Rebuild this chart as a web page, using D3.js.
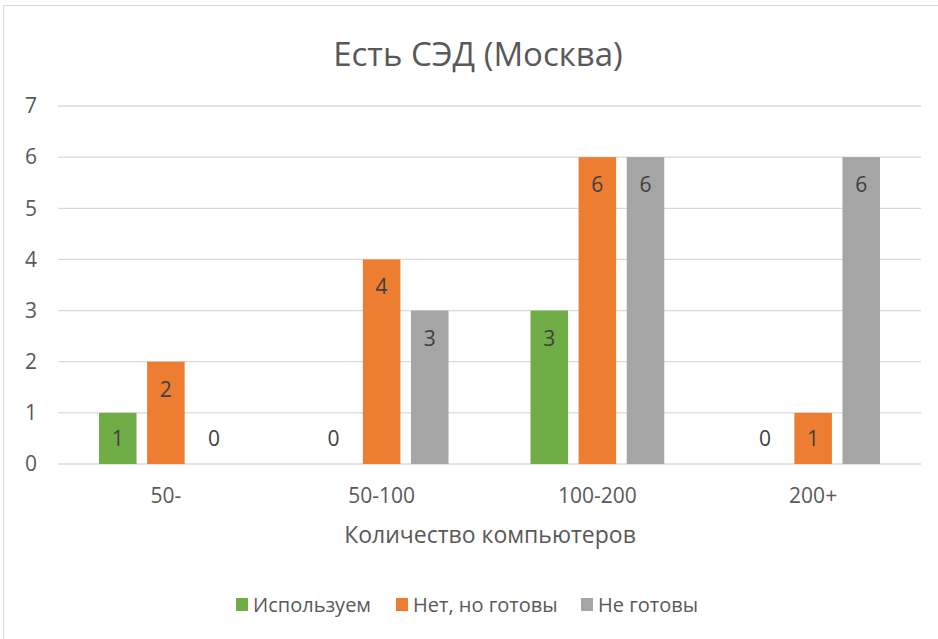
<!DOCTYPE html>
<html>
<head>
<meta charset="utf-8">
<script src="https://cdn.jsdelivr.net/npm/d3@7"></script>
<style>
  body { margin: 0; background: #fff; }
  text { font-family: "Open Sans", "Noto Sans", sans-serif; }
</style>
</head>
<body>
<svg id="chart" width="938" height="639"></svg>
<script>
// Chart data
const categories = ['50-', '50-100', '100-200', '200+'];
const seriesNames = ['Используем', 'Нет, но готовы', 'Не готовы'];
const usingValues = [1, 0, 3, 0];
const readyValues = [2, 4, 6, 1];
const notReadyValues = [0, 3, 6, 6];
const yTicks = [0, 1, 2, 3, 4, 5, 6, 7];

const colors = ['#70ad47', '#ed7d31', '#a5a5a5'];
const series = [usingValues, readyValues, notReadyValues];

const svg = d3.select('#chart');

// chart frame (cut off on the right and bottom like the original)
svg.append('rect')
    .attr('x', 3.5).attr('y', 5.5)
    .attr('width', 960).attr('height', 660)
    .attr('fill', 'none').attr('stroke', '#d9d9d9');

const plot = { left: 58, right: 921, top: 106, bottom: 464 };

const x = d3.scaleBand()
    .domain(categories)
    .range([plot.left, plot.right]);

const y = d3.scaleLinear()
    .domain([0, 7])
    .range([plot.bottom, plot.top]);

// Title
svg.append('text')
    .attr('x', 478).attr('y', 66)
    .attr('text-anchor', 'middle')
    .attr('font-size', 33)
    .attr('fill', '#595959')
    .text('Есть СЭД (Москва)');

// Gridlines
svg.append('g')
    .selectAll('line')
    .data(yTicks)
    .enter().append('line')
    .attr('x1', plot.left).attr('x2', plot.right)
    .attr('y1', (d) => y(d)).attr('y2', (d) => y(d))
    .attr('stroke', '#d9d9d9')
    .attr('stroke-width', 1.3);

// Y axis labels
const yAxis = d3.axisLeft(y).tickValues(yTicks).tickFormat(d3.format('d')).tickSize(0).tickPadding(0);
const yg = svg.append('g')
    .attr('transform', `translate(${37},0)`)
    .call(yAxis);
yg.select('.domain').remove();
yg.selectAll('text')
    .attr('font-size', 21)
    .attr('fill', '#595959')
    .attr('font-family', '"Open Sans", sans-serif');

// X axis labels
const xAxis = d3.axisBottom(x).tickSize(0).tickPadding(0);
const xg = svg.append('g')
    .attr('transform', `translate(0,${488})`)
    .call(xAxis);
xg.select('.domain').remove();
xg.selectAll('text')
    .attr('font-size', 21)
    .attr('fill', '#595959')
    .attr('font-family', '"Open Sans", sans-serif');

// Axis title
svg.append('text')
    .attr('x', 490).attr('y', 543)
    .attr('text-anchor', 'middle')
    .attr('font-size', 23)
    .attr('fill', '#595959')
    .text('Количество компьютеров');

// Bars
const barWidth = x.bandwidth() * 0.174;
const barStep = x.bandwidth() * 0.223;

series.forEach((values, si) => {
    const g = svg.append('g');
    const offset = (si - 1) * barStep - barWidth / 2;

    g.selectAll('rect')
        .data(values)
        .enter().append('rect')
        .attr('x', (d, i) => x(categories[i]) + x.bandwidth() / 2 + offset)
        .attr('y', (d) => y(d))
        .attr('width', barWidth)
        .attr('height', (d) => y(0) - y(d))
        .attr('fill', colors[si]);

    g.selectAll('text')
        .data(values)
        .enter().append('text')
        .attr('x', (d, i) => x(categories[i]) + x.bandwidth() / 2 + offset + barWidth / 2)
        .attr('y', (d) => Math.min(y(d) + 35, y(0) - 18))
        .attr('text-anchor', 'middle')
        .attr('font-size', 21)
        .attr('fill', '#404040')
        .text((d) => d);
});

// Legend
const legendItems = [
    { name: seriesNames[0], color: colors[0], x: 236 },
    { name: seriesNames[1], color: colors[1], x: 396 },
    { name: seriesNames[2], color: colors[2], x: 581 }
];
const legend = svg.append('g');
legendItems.forEach((item) => {
    legend.append('rect')
        .attr('x', item.x).attr('y', 598)
        .attr('width', 12).attr('height', 13)
        .attr('fill', item.color);
    legend.append('text')
        .attr('x', item.x + 17).attr('y', 612)
        .attr('font-size', 20)
        .attr('fill', '#595959')
        .text(item.name);
});
</script>
</body>
</html>
